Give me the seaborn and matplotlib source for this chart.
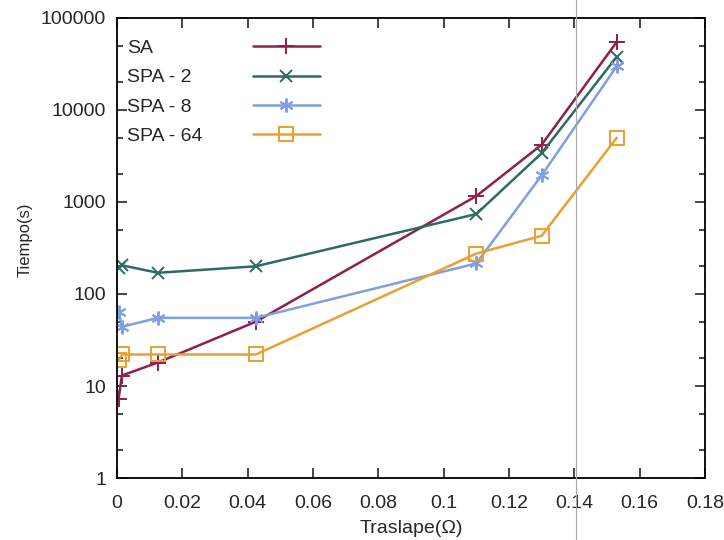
import numpy as np
import pandas as pd
import matplotlib
matplotlib.use("Agg")
import matplotlib.pyplot as plt
import seaborn as sns
from matplotlib.lines import Line2D
from matplotlib.ticker import FixedLocator, FormatStrFormatter, LogLocator

# data
traslape = [0.0005, 0.0015, 0.0125, 0.0425, 0.11, 0.13, 0.153]
sa = [7.3, 13, 18, 50, 1160, 4200, 55000]
spa2 = [190, 205, 170, 200, 740, 3400, 38000]
spa8 = [64, 44, 55, 55, 215, 1950, 30000]
spa64 = [19, 22, 22, 22, 275, 430, 5000]

series_names = ["SA", "SPA - 2", "SPA - 8", "SPA - 64"]
colors = ["#8e1f4e", "#2e6b62", "#7f9fe0", "#eaa030"]
markers = ["+", "x", (6, 2, 0), "s"]
msizes = [11, 9, 10, 10]

sns.set_style("ticks")
plt.rcParams["font.family"] = ["Liberation Sans", "DejaVu Sans"]

fig = plt.figure(figsize=(7.24, 5.4), dpi=100)
ax = fig.add_axes([0.1616, 0.1148, 0.8122, 0.8519])

for name, vals, c, m, ms in zip(series_names, [sa, spa2, spa8, spa64], colors, markers, msizes):
    df = pd.DataFrame({"x": traslape, "y": vals})
    kw = dict(marker=m, markersize=ms, markeredgewidth=1.4, linewidth=1.8,
              markeredgecolor=c)
    if m == "s":
        kw.update(markerfacecolor="none")
    sns.lineplot(data=df, x="x", y="y", color=c, label=name, ax=ax, **kw)

ax.set_yscale("log")
ax.set_ylim(1, 100000)
ax.set_xlim(0, 0.18)
ax.xaxis.set_major_locator(FixedLocator(np.arange(0, 0.181, 0.02)))
ax.xaxis.set_major_formatter(FormatStrFormatter("%g"))
ax.yaxis.set_major_locator(LogLocator(base=10, numticks=10))
ax.yaxis.set_minor_locator(LogLocator(base=10, subs=[2, 5], numticks=10))
ax.yaxis.set_major_formatter(FormatStrFormatter("%d"))
ax.yaxis.set_minor_formatter(plt.NullFormatter())

ax.tick_params(which="both", direction="in", top=True, right=True, labelsize=14, width=1.2)
ax.tick_params(which="major", length=7)
ax.tick_params(axis="y", which="major", pad=8)
ax.tick_params(axis="x", which="major", pad=12)
ax.tick_params(which="minor", length=4)
for s in ax.spines.values():
    s.set_linewidth(1.3)
    s.set_color("black")

ax.set_xlabel("Traslape(Ω)", fontsize=14, labelpad=6)
ax.set_ylabel("Tiempo(s)", fontsize=12)
ax.yaxis.set_label_coords(-0.144, 0.517)

leg = ax.legend(loc="upper left", bbox_to_anchor=(0.004, 0.97), borderaxespad=0,
                frameon=False, markerfirst=False, fontsize=14,
                handlelength=3.45, handletextpad=2.57, labelspacing=0.6)

# left-align the labels (markerfirst=False right-aligns the rows)
fig.canvas.draw()
r = fig.canvas.get_renderer()
widths = [t.get_window_extent(r).width for t in leg.get_texts()]
col = leg._legend_handle_box.get_children()[0]
for hp, w in zip(col.get_children(), widths):
    hp.sep = 2.57 * 14 + (max(widths) - w) * 72 / fig.dpi

# faint fold line of the scanned page
fig.add_artist(Line2D([0.7956, 0.7956], [0, 1], color="#aaaaaa", linewidth=0.8,
                      transform=fig.transFigure))

fig.savefig("out.png", dpi=100)
